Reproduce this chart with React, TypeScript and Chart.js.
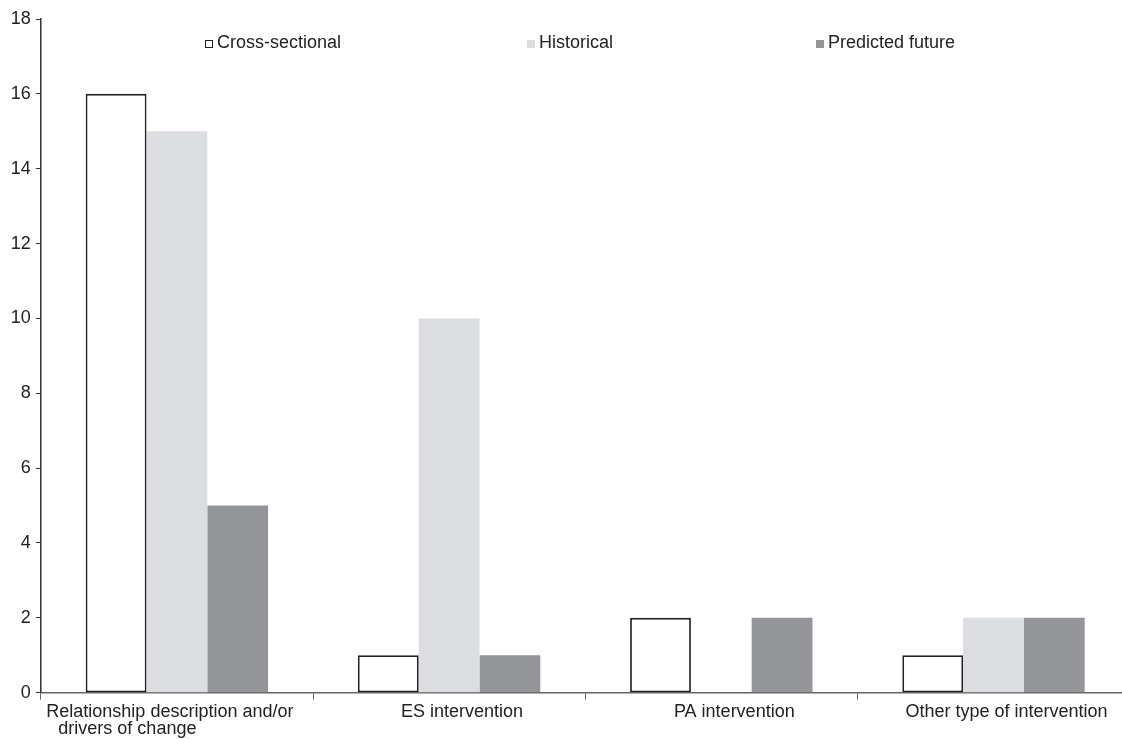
import React, { useEffect, useRef } from "react";
import { Chart, registerables } from "chart.js";

Chart.register(...registerables);

const categories: (string | string[])[] = [
  ["Relationship description and/or        ", "drivers of change                         "],
  "ES intervention",
  "PA intervention",
  "Other type of intervention",
];
const seriesLabels = ["Cross-sectional", "Historical", "Predicted future"];
const crossSectional = [16, 1, 2, 1];
const historical = [15, 10, 0, 2];
const predicted = [5, 1, 2, 2];
const yTickMax = 18;
const yTickStep = 2;

const FONT = "'Liberation Sans', Arial, sans-serif";
const TEXT = "#222222";
const LEGEND_FRAC = [0.151, 0.4466, 0.712];

const legendPlugin = {
  id: "customLegend",
  afterDraw(chart: any) {
    const { ctx, chartArea } = chart;
    const w = chartArea.right - chartArea.left;
    ctx.save();
    ctx.font = `18px ${FONT}`;
    ctx.textBaseline = "alphabetic";
    ctx.textAlign = "left";
    chart.data.datasets.forEach((ds: any, i: number) => {
      const x = Math.round(chartArea.left + LEGEND_FRAC[i] * w);
      const base = 48;
      ctx.fillStyle = ds.backgroundColor;
      ctx.fillRect(x, base - 8, 8, 8);
      if (ds.borderWidth > 0) {
        ctx.strokeStyle = ds.borderColor;
        ctx.lineWidth = 1;
        ctx.strokeRect(x + 0.5, base - 7.5, 7, 7);
      }
      ctx.fillStyle = TEXT;
      ctx.fillText(ds.label, x + 12, base);
    });
    ctx.restore();
  },
};

export default function App() {
  const ref = useRef<HTMLCanvasElement>(null);
  useEffect(() => {
    if (!ref.current) return;
    const chart = new Chart(ref.current, {
      type: "bar",
      data: {
        labels: categories,
        datasets: [
          {
            label: seriesLabels[0],
            data: crossSectional,
            backgroundColor: "#ffffff",
            borderColor: "#222222",
            borderWidth: 1.8,
            borderSkipped: false,
          },
          {
            label: seriesLabels[1],
            data: historical,
            backgroundColor: "#dcdde0",
            borderWidth: 0,
          },
          {
            label: seriesLabels[2],
            data: predicted,
            backgroundColor: "#939598",
            borderWidth: 0,
          },
        ],
      },
      options: {
        animation: false,
        responsive: true,
        maintainAspectRatio: false,
        layout: { padding: { top: 19, right: 5.4, left: 0, bottom: 0 } },
        plugins: {
          legend: { display: false },
          tooltip: { enabled: false },
        },
        datasets: {
          bar: { categoryPercentage: 0.67, barPercentage: 1.0 },
        },
        scales: {
          x: {
            grid: {
              display: true,
              drawOnChartArea: false,
              drawTicks: true,
              tickLength: 7,
              color: "#666666",
              lineWidth: 1,
              offset: true,
            },
            border: { display: true, color: "#666666", width: 1.5 },
            ticks: {
              color: TEXT,
              font: { family: FONT, size: 18, lineHeight: "17px" },
              padding: 4,
              maxRotation: 0,
              autoSkip: false,
              labelOffset: 13,
            },
            afterFit(scale: any) {
              scale.height = 46.3;
            },
          },
          y: {
            min: 0,
            max: yTickMax,
            ticks: {
              stepSize: yTickStep,
              color: TEXT,
              font: { family: FONT, size: 18 },
              padding: 5,
            },
            grid: {
              display: true,
              drawOnChartArea: false,
              drawTicks: true,
              tickLength: 5,
              color: "#333333",
              lineWidth: 1,
            },
            border: { display: true, color: "#333333", width: 1.5 },
            afterFit(scale: any) {
              scale.width = 40.8;
            },
          },
        },
      },
      plugins: [legendPlugin],
    });
    return () => chart.destroy();
  }, []);
  return (
    <div
      style={{
        position: "fixed",
        left: 0,
        top: 0,
        width: 1122,
        height: 739,
        overflow: "hidden",
        background: "#fff",
      }}
    >
      <div style={{ position: "relative", width: 1135, height: 739 }}>
        <canvas ref={ref} />
      </div>
    </div>
  );
}
